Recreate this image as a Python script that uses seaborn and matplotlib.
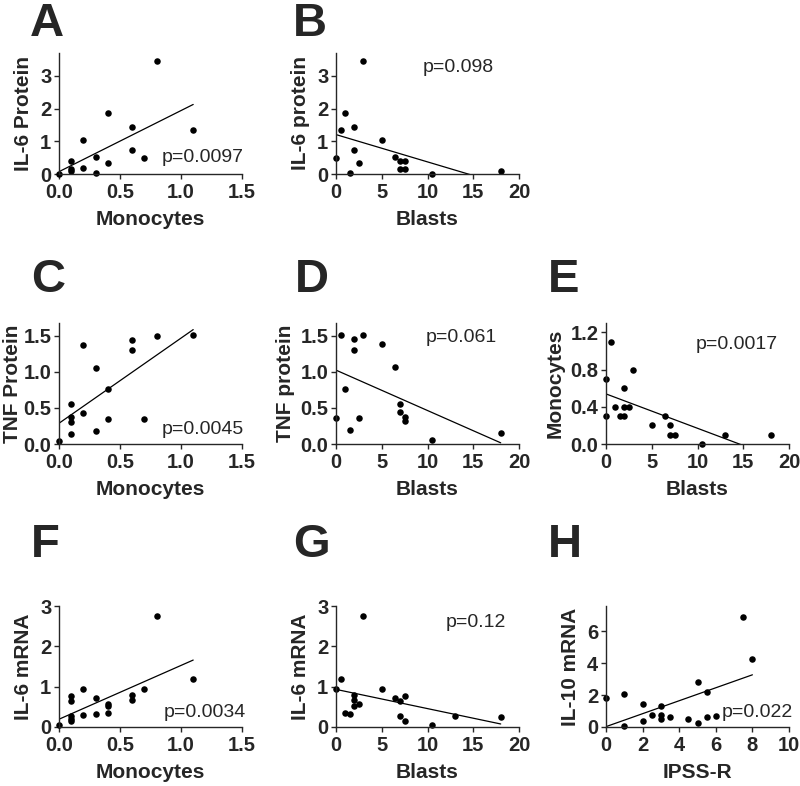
import numpy as np
import matplotlib
matplotlib.use("Agg")
import matplotlib.pyplot as plt
import seaborn as sns

# ---------------------------------------------------------------
# data
# ---------------------------------------------------------------
# A : IL-6 protein vs monocytes
a_mono = [0.0, 0.1, 0.1, 0.1, 0.2, 0.2, 0.3, 0.3, 0.4, 0.4, 0.6, 0.6, 0.7, 0.8, 1.1]
a_il6 = [0.0, 0.41, 0.14, 0.08, 1.04, 0.17, 0.51, 0.03, 1.87, 0.33, 1.45, 0.73, 0.50, 3.47, 1.36]

# B : IL-6 protein vs blasts
b_blasts = [0, 0.5, 1, 1.5, 2, 2, 2.5, 3, 5, 6.5, 7, 7, 7.5, 7.5, 10.5, 18]
b_il6 = [0.49, 1.36, 1.87, 0.03, 1.45, 0.72, 0.33, 3.47, 1.03, 0.51, 0.40, 0.16, 0.40, 0.16, 0.0, 0.10]

# C : TNF protein vs monocytes
c_mono = [0.0, 0.1, 0.1, 0.1, 0.1, 0.2, 0.2, 0.3, 0.3, 0.4, 0.4, 0.6, 0.6, 0.7, 0.8, 1.1]
c_tnf = [0.04, 0.56, 0.37, 0.31, 0.14, 1.38, 0.43, 1.06, 0.18, 0.76, 0.35, 1.45, 1.31, 0.35, 1.50, 1.51]

# D : TNF protein vs blasts
d_blasts = [0, 0.5, 1, 1.5, 2, 2, 2.5, 3, 5, 6.5, 7, 7, 7.5, 7.5, 10.5, 18]
d_tnf = [0.36, 1.52, 0.77, 0.19, 1.46, 1.31, 0.36, 1.51, 1.39, 1.07, 0.56, 0.44, 0.38, 0.32, 0.05, 0.15]

# E : monocytes vs blasts
e_blasts = [0, 0, 0.5, 1, 1.5, 2, 2, 2, 2.5, 3, 5, 6.5, 7, 7, 7.5, 10.5, 13, 18]
e_mono = [0.7, 0.3, 1.1, 0.4, 0.3, 0.6, 0.4, 0.3, 0.4, 0.8, 0.2, 0.3, 0.2, 0.1, 0.1, 0.0, 0.1, 0.1]

# F : IL-6 mRNA vs monocytes
f_mono = [0.0, 0.1, 0.1, 0.1, 0.1, 0.1, 0.2, 0.2, 0.3, 0.3, 0.4, 0.4, 0.4, 0.6, 0.6, 0.7, 0.8, 1.1]
f_mrna = [0.04, 0.78, 0.65, 0.28, 0.20, 0.14, 0.94, 0.29, 0.71, 0.31, 0.58, 0.53, 0.35, 0.80, 0.66, 0.93, 2.75, 1.20]

# G : IL-6 mRNA vs blasts
g_blasts = [0, 0.5, 1, 1.5, 2, 2, 2, 2.5, 3, 5, 6.5, 7, 7, 7.5, 7.5, 10.5, 13, 18]
g_mrna = [0.93, 1.20, 0.35, 0.31, 0.80, 0.66, 0.53, 0.58, 2.75, 0.94, 0.71, 0.65, 0.28, 0.78, 0.14, 0.04, 0.28, 0.26]

# H : IL-10 mRNA vs IPSS-R
h_ipss = [0, 1, 1, 2, 2, 2.5, 3, 3, 3, 3.5, 4.5, 5, 5, 5.5, 5.5, 6, 7.5, 8]
h_il10 = [1.85, 2.10, 0.08, 1.45, 0.37, 0.73, 1.33, 0.77, 0.52, 0.62, 0.52, 2.80, 0.27, 2.18, 0.62, 0.68, 6.90, 4.29]

letters = ["A", "B", "C", "D", "E", "F", "G", "H"]
xlabels = ["Monocytes", "Blasts", "Monocytes", "Blasts", "Blasts", "Monocytes", "Blasts", "IPSS-R"]
ylabels = ["IL-6 Protein", "IL-6 protein", "TNF Protein", "TNF protein", "Monocytes",
           "IL-6 mRNA", "IL-6 mRNA", "IL-10 mRNA"]
pvals = ["p=0.0097", "p=0.098", "p=0.0045", "p=0.061", "p=0.0017", "p=0.0034", "p=0.12", "p=0.022"]

# ---------------------------------------------------------------
sns.set_style("ticks")
plt.rcParams["font.family"] = ["Liberation Sans", "DejaVu Sans"]
plt.rcParams["axes.linewidth"] = 1.0
plt.rcParams["xtick.major.width"] = 1.0
plt.rcParams["ytick.major.width"] = 1.0
plt.rcParams["xtick.major.size"] = 3.5
plt.rcParams["ytick.major.size"] = 3.5

fig = plt.figure(figsize=(8, 7.86), dpi=100)

W, H = 800, 786
col_left = [59, 336, 606]
row_bottom = [174, 444, 727]
aw, ah = 183, 121

# panel slot -> (col, row)
slots = [(0, 0), (1, 0), (0, 1), (1, 1), (2, 1), (0, 2), (1, 2), (2, 2)]
letter_pos = [(30, 2), (293, 2), (31, 258), (295, 258), (548, 258), (31, 523), (293, 523), (548, 523)]
ypads = [5, 5, 1, 4, 4, 5, 5, 5]

panels = [
    (a_mono, a_il6, (0, 1.5), [0, 0.5, 1.0, 1.5], "%.1f", (0, 3.7), [0, 1, 2, 3], "%d", (0.56, 0.14)),
    (b_blasts, b_il6, (0, 20), [0, 5, 10, 15, 20], "%d", (0, 3.7), [0, 1, 2, 3], "%d", (0.475, 0.88)),
    (c_mono, c_tnf, (0, 1.5), [0, 0.5, 1.0, 1.5], "%.1f", (0, 1.68), [0, 0.5, 1.0, 1.5], "%.1f", (0.56, 0.12)),
    (d_blasts, d_tnf, (0, 20), [0, 5, 10, 15, 20], "%d", (0, 1.68), [0, 0.5, 1.0, 1.5], "%.1f", (0.49, 0.88)),
    (e_blasts, e_mono, (0, 20), [0, 5, 10, 15, 20], "%d", (0, 1.3), [0, 0.4, 0.8, 1.2], "%.1f", (0.49, 0.82)),
    (f_mono, f_mrna, (0, 1.5), [0, 0.5, 1.0, 1.5], "%.1f", (0, 3.0), [0, 1, 2, 3], "%d", (0.57, 0.12)),
    (g_blasts, g_mrna, (0, 20), [0, 5, 10, 15, 20], "%d", (0, 3.0), [0, 1, 2, 3], "%d", (0.60, 0.86)),
    (h_ipss, h_il10, (0, 10), [0, 2, 4, 6, 8, 10], "%d", (0, 7.6), [0, 2, 4, 6], "%d", (0.63, 0.12)),
]

for i, (x, y, xlim, xt, xfmt, ylim, yt, yfmt, ppos) in enumerate(panels):
    c, r = slots[i]
    ax = fig.add_axes([col_left[c] / W, 1 - row_bottom[r] / H, aw / W, ah / H])
    sns.regplot(x=np.array(x), y=np.array(y), ax=ax, ci=None, color="black",
                scatter_kws={"s": 22, "clip_on": False, "linewidths": 0, "alpha": 1},
                line_kws={"lw": 0.9})
    ax.set_xlim(*xlim)
    ax.set_ylim(*ylim)
    ax.set_xticks(xt)
    ax.set_yticks(yt)
    ax.set_xticklabels([xfmt % v for v in xt])
    ax.set_yticklabels([yfmt % v for v in yt])
    ax.tick_params(axis="x", labelsize=14.5, pad=3)
    ax.tick_params(axis="y", labelsize=14.5, pad=2)
    for lab in ax.get_xticklabels() + ax.get_yticklabels():
        lab.set_fontweight("bold")
    ax.set_xlabel(xlabels[i], fontsize=15, fontweight="bold", labelpad=6)
    ax.set_ylabel(ylabels[i], fontsize=15, fontweight="bold", labelpad=ypads[i])
    sns.despine(ax=ax)
    ax.text(ppos[0], ppos[1], pvals[i], transform=ax.transAxes, fontsize=14,
            ha="left", va="center")
    lx, ly = letter_pos[i]
    fig.text(lx / W, 1 - ly / H, letters[i], fontsize=34, fontweight="bold",
             ha="left", va="top")

fig.savefig("out.png", dpi=100)
